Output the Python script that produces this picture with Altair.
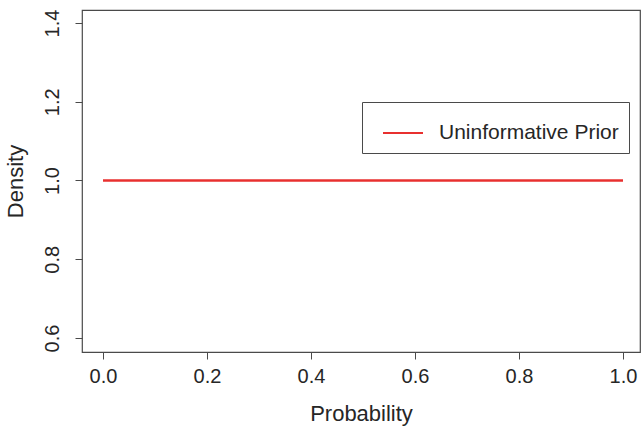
import altair as alt
import pandas as pd

# Data
probability = [0.0, 1.0]
density = [1.0, 1.0]
series = ["Uninformative Prior", "Uninformative Prior"]

x_ticks = [0.0, 0.2, 0.4, 0.6, 0.8, 1.0]
y_ticks = [0.6, 0.8, 1.0, 1.2, 1.4]

df = pd.DataFrame({"Probability": probability, "Density": density, "Series": series})

FONT = "Liberation Sans"
TXT = "#262626"
AX = "#4a4a4a"

chart = alt.Chart(df).mark_line(strokeWidth=2.5).encode(
    x=alt.X("Probability:Q",
            scale=alt.Scale(domain=[-0.0404, 1.0327], nice=False, zero=False),
            axis=alt.Axis(values=x_ticks, format=".1f", title="Probability",
                          grid=False, domain=False, tickSize=7, tickColor=AX,
                          labelPadding=7, titlePadding=17,
                          labelFontSize=20, titleFontSize=22,
                          labelFont=FONT, titleFont=FONT,
                          labelColor=TXT, titleColor=TXT,
                          titleFontWeight="normal", labelFlush=False)),
    y=alt.Y("Density:Q",
            scale=alt.Scale(domain=[0.5644, 1.433], nice=False, zero=False),
            axis=alt.Axis(values=y_ticks, format=".1f", title="Density",
                          grid=False, domain=False, tickSize=7, tickColor=AX,
                          labelAngle=270, labelAlign="center", labelBaseline="bottom",
                          labelPadding=13, titlePadding=15,
                          labelFontSize=20, titleFontSize=22,
                          labelFont=FONT, titleFont=FONT,
                          labelColor=TXT, titleColor=TXT,
                          titleFontWeight="normal", labelFlush=False)),
    color=alt.Color("Series:N",
                    scale=alt.Scale(range=["#e8302f"]),
                    legend=alt.Legend(orient="none", legendX=280, legendY=92,
                                      title=None, strokeColor=AX, padding=10,
                                      symbolType="stroke", symbolSize=1600,
                                      symbolStrokeWidth=2, symbolOffset=10,
                                      labelFontSize=21, labelFont=FONT,
                                      labelColor=TXT, labelOffset=15,
                                      labelLimit=400,
                                      cornerRadius=0, fillColor="white")),
).properties(
    width=558,
    height=342,
    padding={"left": 82, "top": 10, "right": 2, "bottom": 79},
    autosize=alt.AutoSizeParams(type="none"),
    background="white",
).configure_view(
    stroke=AX, strokeWidth=1.2
)

chart.save("out.html", embed_options={"renderer": "svg", "actions": False})
